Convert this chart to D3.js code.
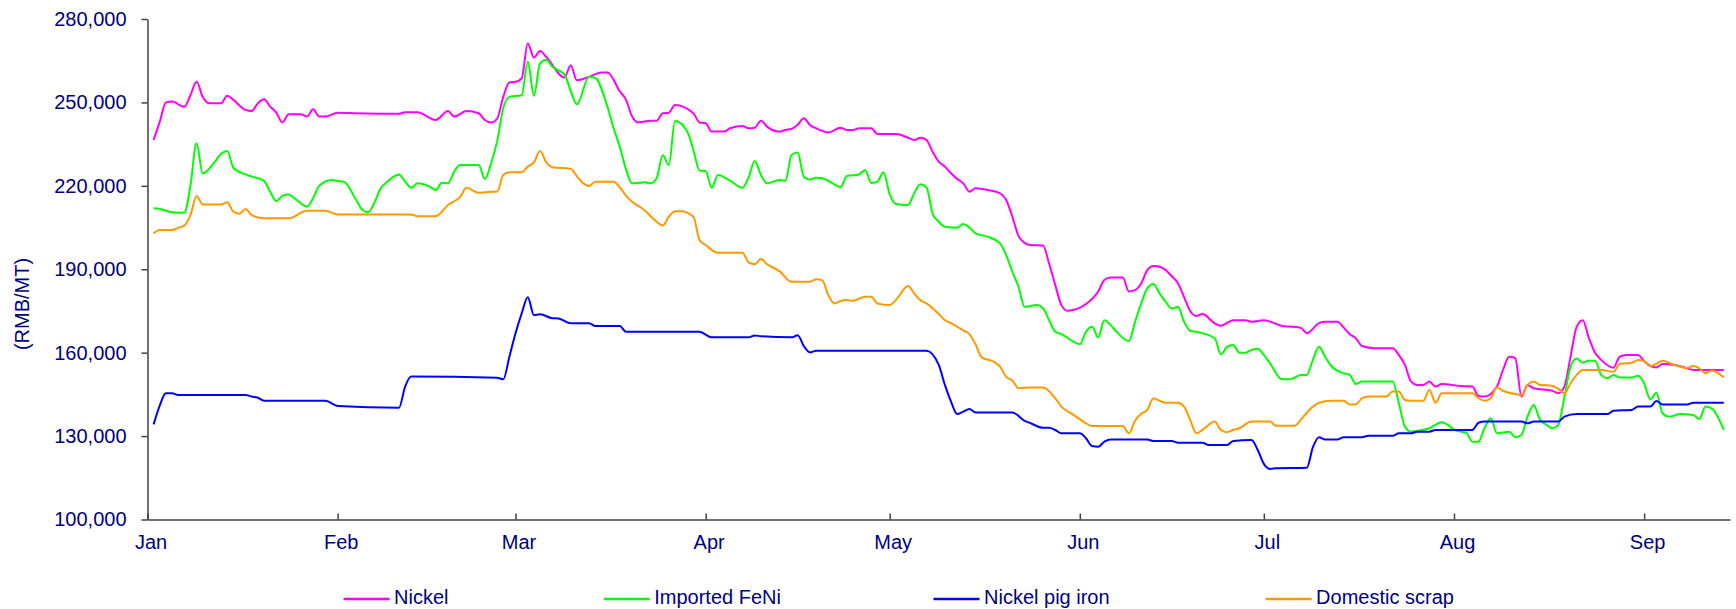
<!DOCTYPE html>
<html>
<head>
<meta charset="utf-8">
<script src="https://cdn.jsdelivr.net/npm/d3@7"></script>
<style>
  html, body { margin: 0; padding: 0; background: #fff; }
  svg { display: block; }
  text { font-family: "Liberation Sans", Arial, sans-serif; fill: #000080; }
</style>
</head>
<body>
<svg id="chart" width="1736" height="609"></svg>
<script>
// ---------------- DATA ----------------
const seriesNames = ["Nickel", "Imported FeNi", "Nickel pig iron", "Domestic scrap"];
const monthLabels = ["Jan", "Feb", "Mar", "Apr", "May", "Jun", "Jul", "Aug", "Sep"];
const yTicks = [100000, 130000, 160000, 190000, 220000, 250000, 280000];
const yAxisTitle = "(RMB/MT)";

const nickel = [
["2008-01-02",236500],["2008-01-03",243000],["2008-01-04",250000],["2008-01-05",250300],["2008-01-07",248400],
["2008-01-08",252600],["2008-01-09",257400],["2008-01-10",252000],["2008-01-11",249700],["2008-01-13",249700],
["2008-01-14",252400],["2008-01-15",250900],["2008-01-17",247300],["2008-01-18",246900],["2008-01-19",249700],
["2008-01-20",251100],["2008-01-21",248500],["2008-01-22",246300],["2008-01-23",242800],["2008-01-24",245700],
["2008-01-26",245700],["2008-01-27",244900],["2008-01-28",247500],["2008-01-29",244900],["2008-01-30",244900],
["2008-02-01",246300],["2008-02-04",246100],["2008-02-11",245900],["2008-02-12",246500],["2008-02-14",246500],
["2008-02-17",243700],["2008-02-19",246900],["2008-02-20",244900],["2008-02-22",246900],["2008-02-24",246100],
["2008-02-25",243700],["2008-02-26",242800],["2008-02-27",244100],["2008-02-28",252000],["2008-02-29",257200],
["2008-03-01",257400],["2008-03-02",258600],["2008-03-03",271200],["2008-03-04",266100],["2008-03-05",268500],
["2008-03-06",266400],["2008-03-09",259000],["2008-03-10",263400],["2008-03-11",258000],["2008-03-13",259200],
["2008-03-15",260800],["2008-03-16",260800],["2008-03-18",254000],["2008-03-19",251000],["2008-03-20",245000],
["2008-03-21",242800],["2008-03-23",243400],["2008-03-24",243400],["2008-03-25",246100],["2008-03-26",246300],
["2008-03-27",249100],["2008-03-30",246100],["2008-03-31",242800],["2008-04-01",242500],["2008-04-02",239500],
["2008-04-04",239500],["2008-04-05",240700],["2008-04-07",241500],["2008-04-08",240700],["2008-04-09",240900],
["2008-04-10",243400],["2008-04-11",241300],["2008-04-13",239500],["2008-04-14",240100],["2008-04-15",240500],
["2008-04-16",242000],["2008-04-17",244300],["2008-04-18",241900],["2008-04-19",240700],["2008-04-21",239200],
["2008-04-23",240900],["2008-04-24",240100],["2008-04-25",240100],["2008-04-26",240700],["2008-04-28",240700],
["2008-04-29",238600],["2008-05-02",238600],["2008-05-04",237300],["2008-05-05",236500],["2008-05-06",237300],
["2008-05-07",236500],["2008-05-08",232300],["2008-05-09",228700],["2008-05-10",226900],["2008-05-11",224500],
["2008-05-12",222500],["2008-05-13",220900],["2008-05-14",217900],["2008-05-15",219100],["2008-05-17",218500],
["2008-05-19",217300],["2008-05-20",214900],["2008-05-21",208900],["2008-05-22",202000],["2008-05-23",199500],
["2008-05-24",198700],["2008-05-26",198500],["2008-05-27",192000],["2008-05-28",184300],["2008-05-29",177100],
["2008-05-30",175100],["2008-06-02",177500],["2008-06-04",182000],["2008-06-05",186100],["2008-06-06",187000],
["2008-06-08",187000],["2008-06-09",182000],["2008-06-10",182500],["2008-06-11",184900],["2008-06-12",189700],
["2008-06-13",191200],["2008-06-14",190900],["2008-06-15",189700],["2008-06-16",187500],["2008-06-17",185000],
["2008-06-18",180000],["2008-06-19",175000],["2008-06-20",173200],["2008-06-21",173900],["2008-06-23",170500],
["2008-06-24",169700],["2008-06-26",171700],["2008-06-28",171700],["2008-06-29",171100],["2008-07-01",171700],
["2008-07-04",169600],["2008-07-07",169000],["2008-07-08",167000],["2008-07-10",170600],["2008-07-11",171100],
["2008-07-13",171100],["2008-07-14",169100],["2008-07-15",166600],["2008-07-16",165200],["2008-07-17",162400],
["2008-07-19",161600],["2008-07-22",161600],["2008-07-23",159200],["2008-07-24",155600],["2008-07-25",149600],
["2008-07-26",148400],["2008-07-27",148400],["2008-07-28",149600],["2008-07-29",147800],["2008-07-30",148700],
["2008-08-02",148000],["2008-08-04",147800],["2008-08-05",144400],["2008-08-06",144200],["2008-08-08",147800],
["2008-08-09",153800],["2008-08-10",158500],["2008-08-11",158000],["2008-08-12",144200],["2008-08-13",148400],
["2008-08-14",147200],["2008-08-17",146300],["2008-08-18",145400],["2008-08-19",147800],["2008-08-20",158500],
["2008-08-21",169300],["2008-08-22",171700],["2008-08-23",165200],["2008-08-24",160000],["2008-08-25",157400],
["2008-08-27",154600],["2008-08-28",158500],["2008-08-29",159200],["2008-08-31",159200],["2008-09-01",157000],
["2008-09-02",155200],["2008-09-03",154700],["2008-09-04",155900],["2008-09-06",155600],["2008-09-08",154400],
["2008-09-09",153800],["2008-09-11",153800],["2008-09-14",153800]
];

const importedFeNi = [
["2008-01-02",211900],["2008-01-03",211700],["2008-01-05",210500],["2008-01-07",210300],["2008-01-08",220000],
["2008-01-09",235300],["2008-01-10",224500],["2008-01-12",228700],["2008-01-13",231500],["2008-01-14",232500],
["2008-01-15",226500],["2008-01-17",224100],["2008-01-18",223300],["2008-01-20",221800],["2008-01-21",217900],
["2008-01-22",214500],["2008-01-23",216400],["2008-01-24",216900],["2008-01-25",215500],["2008-01-27",212500],
["2008-01-28",215500],["2008-01-29",220000],["2008-01-31",222100],["2008-02-01",221700],["2008-02-02",221500],
["2008-02-04",215000],["2008-02-05",211500],["2008-02-06",210500],["2008-02-07",214000],["2008-02-08",219000],
["2008-02-09",221300],["2008-02-11",224100],["2008-02-12",221500],["2008-02-13",219300],["2008-02-14",220900],
["2008-02-16",219700],["2008-02-17",218500],["2008-02-18",221100],["2008-02-19",220900],["2008-02-20",225100],
["2008-02-21",227500],["2008-02-24",227500],["2008-02-25",222400],["2008-02-26",228000],["2008-02-27",236000],
["2008-02-28",248000],["2008-02-29",252000],["2008-03-02",252600],["2008-03-03",264600],["2008-03-04",252400],
["2008-03-05",264000],["2008-03-06",265300],["2008-03-07",262800],["2008-03-09",260000],["2008-03-10",254100],
["2008-03-11",249300],["2008-03-13",259200],["2008-03-14",258800],["2008-03-16",248400],["2008-03-17",240700],
["2008-03-18",234100],["2008-03-19",226000],["2008-03-20",220900],["2008-03-22",221300],["2008-03-23",220900],
["2008-03-24",222700],["2008-03-25",231000],["2008-03-26",227500],["2008-03-27",243300],["2008-03-29",239500],
["2008-03-30",232900],["2008-03-31",225500],["2008-04-01",225300],["2008-04-02",219300],["2008-04-03",223900],
["2008-04-05",221800],["2008-04-07",219300],["2008-04-08",223000],["2008-04-09",228900],["2008-04-10",224000],
["2008-04-11",220900],["2008-04-13",222100],["2008-04-14",221800],["2008-04-15",231100],["2008-04-16",232000],
["2008-04-17",223300],["2008-04-18",222300],["2008-04-19",222900],["2008-04-20",222700],["2008-04-22",220500],
["2008-04-23",219500],["2008-04-24",223500],["2008-04-26",224100],["2008-04-27",225700],["2008-04-28",221000],
["2008-04-29",221500],["2008-04-30",224900],["2008-05-01",217000],["2008-05-02",213500],["2008-05-04",213100],
["2008-05-05",217300],["2008-05-06",220600],["2008-05-07",219500],["2008-05-08",210100],["2008-05-09",207100],
["2008-05-10",205300],["2008-05-12",204900],["2008-05-13",206300],["2008-05-14",205000],["2008-05-15",202900],
["2008-05-17",201700],["2008-05-19",199300],["2008-05-20",195100],["2008-05-21",189100],["2008-05-22",183700],
["2008-05-23",176500],["2008-05-25",177100],["2008-05-26",176000],["2008-05-27",171700],["2008-05-28",167500],
["2008-05-29",166700],["2008-05-31",163900],["2008-06-01",163000],["2008-06-02",167500],["2008-06-03",169300],
["2008-06-04",165500],["2008-06-05",171700],["2008-06-06",170000],["2008-06-07",167500],["2008-06-09",164200],
["2008-06-10",171000],["2008-06-11",177700],["2008-06-12",183100],["2008-06-13",184700],["2008-06-14",181300],
["2008-06-15",178300],["2008-06-16",175900],["2008-06-17",176500],["2008-06-18",171100],["2008-06-19",167900],
["2008-06-20",167500],["2008-06-23",165200],["2008-06-24",159400],["2008-06-25",162100],["2008-06-26",162800],
["2008-06-27",160000],["2008-06-28",160000],["2008-06-29",161000],["2008-06-30",161400],["2008-07-01",159200],
["2008-07-02",156200],["2008-07-04",150400],["2008-07-05",150400],["2008-07-06",151000],["2008-07-07",152000],
["2008-07-08",152000],["2008-07-09",157400],["2008-07-10",162100],["2008-07-11",158500],["2008-07-12",155200],
["2008-07-14",152600],["2008-07-15",152000],["2008-07-16",148700],["2008-07-17",149600],["2008-07-19",149600],
["2008-07-22",149600],["2008-07-23",142000],["2008-07-24",133400],["2008-07-25",131600],["2008-07-26",131900],
["2008-07-28",132800],["2008-07-30",135000],["2008-07-31",134000],["2008-08-01",132400],["2008-08-02",131600],
["2008-08-03",131200],["2008-08-04",128000],["2008-08-05",128000],["2008-08-06",133000],["2008-08-07",136400],
["2008-08-08",131000],["2008-08-10",131600],["2008-08-11",129600],["2008-08-12",130400],["2008-08-13",137000],
["2008-08-14",141200],["2008-08-15",136000],["2008-08-16",134200],["2008-08-17",132800],["2008-08-18",134000],
["2008-08-19",144000],["2008-08-20",154900],["2008-08-21",157900],["2008-08-22",156400],["2008-08-23",157100],
["2008-08-24",157100],["2008-08-25",152000],["2008-08-26",150800],["2008-08-27",152000],["2008-08-28",151100],
["2008-08-30",151100],["2008-08-31",151700],["2008-09-01",149000],["2008-09-02",143200],["2008-09-03",145600],
["2008-09-04",138200],["2008-09-05",137000],["2008-09-07",137900],["2008-09-09",137600],["2008-09-10",136100],
["2008-09-11",140600],["2008-09-12",140000],["2008-09-14",132200]
];

const nickelPigIron = [
["2008-01-02",134200],["2008-01-03",141000],["2008-01-04",145400],["2008-01-05",145400],["2008-01-06",144800],
["2008-01-17",144800],["2008-01-18",144200],["2008-01-19",143800],["2008-01-20",142700],["2008-01-30",142700],
["2008-02-01",140800],["2008-02-11",140200],["2008-02-12",147800],["2008-02-13",151400],["2008-02-27",151000],
["2008-02-28",150400],["2008-02-29",158500],["2008-03-01",167000],["2008-03-02",174100],["2008-03-03",179900],
["2008-03-04",173500],["2008-03-05",173800],["2008-03-07",172400],["2008-03-08",172300],["2008-03-10",170600],
["2008-03-13",170600],["2008-03-14",169600],["2008-03-18",169600],["2008-03-19",167500],["2008-03-31",167500],
["2008-04-02",165500],["2008-04-08",165500],["2008-04-09",166200],["2008-04-10",165900],["2008-04-15",165500],
["2008-04-16",166300],["2008-04-17",162400],["2008-04-18",160100],["2008-04-19",160700],["2008-05-07",160700],
["2008-05-09",155600],["2008-05-10",148400],["2008-05-11",142400],["2008-05-12",137900],["2008-05-13",138800],
["2008-05-14",139700],["2008-05-15",138500],["2008-05-21",138500],["2008-05-23",135500],["2008-05-24",134600],
["2008-05-26",133000],["2008-05-27",133000],["2008-05-28",132200],["2008-05-29",131000],["2008-06-01",131000],
["2008-06-02",129200],["2008-06-03",126400],["2008-06-04",126200],["2008-06-05",128000],["2008-06-06",128800],
["2008-06-12",128800],["2008-06-13",128200],["2008-06-16",128200],["2008-06-17",127600],["2008-06-21",127600],
["2008-06-22",126800],["2008-06-25",126800],["2008-06-26",128200],["2008-06-29",128600],["2008-06-30",125000],
["2008-07-01",120000],["2008-07-02",118200],["2008-07-03",118400],["2008-07-08",118600],["2008-07-09",126000],
["2008-07-10",129600],["2008-07-11",128800],["2008-07-13",128800],["2008-07-14",129600],["2008-07-17",129600],
["2008-07-18",130100],["2008-07-22",130100],["2008-07-23",131000],["2008-07-25",131000],["2008-07-26",131600],
["2008-07-28",131600],["2008-07-29",132200],["2008-08-04",132200],["2008-08-05",134800],["2008-08-06",135200],
["2008-08-12",135200],["2008-08-13",134600],["2008-08-14",135200],["2008-08-18",135200],["2008-08-19",137000],
["2008-08-21",137900],["2008-08-26",137900],["2008-08-27",139100],["2008-08-30",139400],["2008-08-31",140600],
["2008-09-02",140600],["2008-09-03",142600],["2008-09-04",141400],["2008-09-08",141400],["2008-09-09",142000],
["2008-09-14",142000]
];

const domesticScrap = [
["2008-01-02",202900],["2008-01-03",204100],["2008-01-05",204100],["2008-01-06",204900],["2008-01-07",205700],
["2008-01-08",209500],["2008-01-09",216300],["2008-01-10",213300],["2008-01-13",213300],["2008-01-14",214100],
["2008-01-15",210700],["2008-01-16",210000],["2008-01-17",211700],["2008-01-18",209500],["2008-01-20",208300],
["2008-01-24",208300],["2008-01-27",211000],["2008-01-30",211000],["2008-02-01",209700],["2008-02-13",209700],
["2008-02-14",209100],["2008-02-17",209100],["2008-02-19",213100],["2008-02-21",216100],["2008-02-22",219300],
["2008-02-24",217500],["2008-02-26",217900],["2008-02-27",217900],["2008-02-28",223900],["2008-02-29",224900],
["2008-03-02",224900],["2008-03-03",226900],["2008-03-04",228400],["2008-03-05",232500],["2008-03-06",228500],
["2008-03-07",226700],["2008-03-10",226100],["2008-03-11",223500],["2008-03-12",221000],["2008-03-13",219900],
["2008-03-14",221500],["2008-03-17",221500],["2008-03-18",219500],["2008-03-19",216500],["2008-03-20",214300],
["2008-03-22",211300],["2008-03-24",207100],["2008-03-25",205700],["2008-03-26",208900],["2008-03-27",210900],
["2008-03-28",210900],["2008-03-30",208900],["2008-03-31",200500],["2008-04-01",198700],["2008-04-03",195900],
["2008-04-07",195900],["2008-04-08",192500],["2008-04-09",191800],["2008-04-10",193700],["2008-04-11",191800],
["2008-04-13",189400],["2008-04-15",185500],["2008-04-18",185500],["2008-04-19",186400],["2008-04-20",186100],
["2008-04-21",180700],["2008-04-22",177700],["2008-04-23",178600],["2008-04-24",178900],["2008-04-25",178700],
["2008-04-27",180100],["2008-04-28",180100],["2008-04-29",177700],["2008-05-01",177100],["2008-05-02",178900],
["2008-05-04",184000],["2008-05-05",181300],["2008-05-06",178900],["2008-05-07",177700],["2008-05-08",176000],
["2008-05-09",173900],["2008-05-10",171700],["2008-05-11",170600],["2008-05-13",168000],["2008-05-14",166700],
["2008-05-15",163000],["2008-05-16",158300],["2008-05-18",156700],["2008-05-19",155000],["2008-05-20",151300],
["2008-05-21",150000],["2008-05-22",147200],["2008-05-24",147500],["2008-05-26",147500],["2008-05-28",143600],
["2008-05-29",140600],["2008-05-31",137600],["2008-06-02",134600],["2008-06-03",133600],["2008-06-08",133600],
["2008-06-09",131000],["2008-06-10",135500],["2008-06-11",138000],["2008-06-12",139400],["2008-06-13",143600],
["2008-06-14",142700],["2008-06-15",142000],["2008-06-17",142000],["2008-06-18",140600],["2008-06-19",135800],
["2008-06-20",131000],["2008-06-21",132200],["2008-06-23",135200],["2008-06-24",132200],["2008-06-25",131400],
["2008-06-26",132200],["2008-06-27",132800],["2008-06-29",135200],["2008-07-02",135200],["2008-07-03",133700],
["2008-07-06",133700],["2008-07-07",135800],["2008-07-08",138400],["2008-07-09",140600],["2008-07-10",142000],
["2008-07-12",142700],["2008-07-14",142700],["2008-07-15",141400],["2008-07-16",141400],["2008-07-17",143600],
["2008-07-18",144200],["2008-07-21",144200],["2008-07-22",146000],["2008-07-23",146000],["2008-07-24",143000],
["2008-07-25",142700],["2008-07-27",142700],["2008-07-28",146600],["2008-07-29",142000],["2008-07-30",145400],
["2008-07-31",145400],["2008-08-04",145400],["2008-08-05",143600],["2008-08-06",142700],["2008-08-07",143600],
["2008-08-08",147500],["2008-08-09",146300],["2008-08-11",145100],["2008-08-12",144800],["2008-08-13",148400],
["2008-08-14",149600],["2008-08-15",148400],["2008-08-17",148100],["2008-08-18",147000],["2008-08-19",145400],
["2008-08-20",149000],["2008-08-21",152000],["2008-08-22",153800],["2008-08-25",153800],["2008-08-27",153100],
["2008-08-28",155900],["2008-08-30",156400],["2008-08-31",157400],["2008-09-01",157000],["2008-09-02",155200],
["2008-09-03",156000],["2008-09-04",157100],["2008-09-05",156400],["2008-09-06",155600],["2008-09-08",154500],
["2008-09-09",155200],["2008-09-10",154400],["2008-09-11",152600],["2008-09-12",153600],["2008-09-14",151100]
];

const seriesColors = ["#FF00FF", "#00FF00", "#0000FF", "#FF9900"];

// ---------------- LAYOUT ----------------
const svg = d3.select("#chart");
const parse = d3.timeParse("%Y-%m-%d");
const allSeries = [nickel, importedFeNi, nickelPigIron, domesticScrap].map(s => s.map(([d, v]) => ({date: parse(d), value: v})));

const x = d3.scaleTime()
  .domain([new Date(2008, 0, 1), new Date(2008, 8, 15)])
  .range([147.5, 1730]);
const y = d3.scaleLinear()
  .domain([100000, 280000])
  .range([519.5, 19]);

// Y axis
const yAxis = svg.append("g")
  .attr("transform", `translate(${x.range()[0]},0)`)
  .call(d3.axisLeft(y).tickValues(yTicks).tickSize(6).tickSizeOuter(0).tickPadding(15).tickFormat(d3.format(",")));
yAxis.select(".domain").attr("stroke", "#404040").attr("stroke-width", 1.5);
yAxis.selectAll(".tick line").attr("stroke", "#404040").attr("stroke-width", 1.5);
yAxis.selectAll(".tick text").attr("font-size", 20).attr("fill", "#000080")
  .style("font-family", '"Liberation Sans", Arial, sans-serif');

// X axis
const monthStarts = monthLabels.map((m, i) => new Date(2008, i, 1));
const xAxis = svg.append("g")
  .attr("transform", `translate(0,${y.range()[0]})`)
  .call(d3.axisBottom(x).tickValues(monthStarts).tickSize(-6).tickSizeOuter(0).tickPadding(15.5)
    .tickFormat((d, i) => monthLabels[i]));
xAxis.select(".domain").attr("stroke", "#404040").attr("stroke-width", 1.5);
xAxis.selectAll(".tick line").attr("stroke", "#404040").attr("stroke-width", 1.5);
xAxis.selectAll(".tick text").attr("font-size", 20).attr("fill", "#000080").attr("dx", 3)
  .style("font-family", '"Liberation Sans", Arial, sans-serif');

// Y title
svg.append("text")
  .attr("transform", "translate(29,304) rotate(-90)")
  .attr("text-anchor", "middle")
  .attr("font-size", 20)
  .text(yAxisTitle);

// Lines
const line = d3.line()
  .x(d => x(d.date))
  .y(d => y(d.value))
  .curve(d3.curveMonotoneX);

svg.append("g").selectAll("path")
  .data(allSeries)
  .join("path")
  .attr("fill", "none")
  .attr("stroke", (d, i) => seriesColors[i])
  .attr("stroke-width", 2)
  .attr("stroke-linejoin", "round")
  .attr("d", line);

// Legend
const legendX = [343.6, 603.7, 933.5, 1265.6];
const legend = svg.append("g").selectAll("g")
  .data(seriesNames)
  .join("g")
  .attr("transform", (d, i) => `translate(${legendX[i]},599)`);
legend.append("line")
  .attr("x1", 0).attr("x2", 46).attr("y1", 0).attr("y2", 0)
  .attr("stroke", (d, i) => seriesColors[i])
  .attr("stroke-width", 2.5);
legend.append("text")
  .attr("x", 50.5)
  .attr("y", 5)
  .attr("font-size", 20)
  .text(d => d);
</script>
</body>
</html>
